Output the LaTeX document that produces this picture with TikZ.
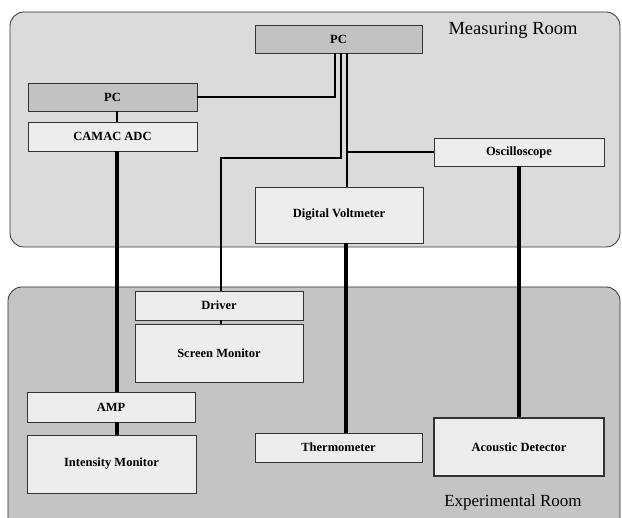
\documentclass[tikz,border=0pt]{standalone}
\usepackage{fontspec}
\setmainfont{Liberation Serif}
\begin{document}
\begin{tikzpicture}[x=1pt,y=-1pt,
  room/.style={draw=black!80, line width=0.8pt, rounded corners=14pt},
  unit/.style={draw=black!80, line width=0.7pt, fill=boxlight, inner sep=0pt,
    font=\fontsize{12.5}{14}\selectfont\bfseries},
  darkunit/.style={unit, fill=boxdark},
  thinlink/.style={line width=1.3pt},
  thicklink/.style={line width=3.6pt}]
\definecolor{measfill}{gray}{0.86}
\definecolor{expfill}{gray}{0.77}
\definecolor{boxdark}{gray}{0.76}
\definecolor{boxlight}{gray}{0.93}
\clip (0,0) rectangle (622,518);
\useasboundingbox (0,0) rectangle (622,518);
\fill[white] (0,0) rectangle (622,518);

% the two rooms
\draw[room, fill=measfill] (10,12) rectangle (620,247);
\draw[room, fill=expfill] (8,287) rectangle (620,540);
\node (measlabel) at (513,30) {\fontsize{18.5}{20}\selectfont Measuring Room};
\node (explabel) at (513,502) {\fontsize{17}{19}\selectfont Experimental Room};

% units in the measuring room
\node[darkunit, minimum width=167pt, minimum height=28pt] (pcT) at (338.5,39) {PC};
\node[darkunit, minimum width=169pt, minimum height=28pt] (pcL) at (112.5,97) {PC};
\node[unit, minimum width=169pt, minimum height=29pt] (adc) at (112.5,136.5) {CAMAC ADC};
\node[unit, minimum width=168pt, minimum height=56pt] (dvm) at (339,215) {Digital Voltmeter};
\node[unit, minimum width=170pt, minimum height=28pt] (osc) at (519,152) {Oscilloscope};

% units in the experimental room
\node[unit, minimum width=168pt, minimum height=29pt] (drv) at (219,305.5) {Driver};
\node[unit, minimum width=168pt, minimum height=58pt] (scr) at (219,353) {Screen Monitor};
\node[unit, minimum width=168pt, minimum height=30pt] (amp) at (111,407) {AMP};
\node[unit, minimum width=169pt, minimum height=58pt] (imon) at (111.5,464) {Intensity Monitor};
\node[unit, minimum width=167pt, minimum height=29pt] (thermo) at (338.5,447.5) {Thermometer};
\node[unit, line width=1.6pt, minimum width=170pt, minimum height=58pt] (acou) at (519,447) {Acoustic Detector};

% control bus from the main PC
\coordinate (bend) at (341,158);
\draw[thinlink] (pcL.east) -| ([xshift=-3.5pt]pcT.south);
\draw[thinlink] ([xshift=2.5pt]pcT.south) -- (bend) -| ([xshift=2pt]drv.north);
\draw[thinlink] ([xshift=8.5pt]pcT.south) -- ([xshift=8.5pt]pcT.south |- dvm.north) coordinate (dvtop);
\draw[thinlink] (osc.west) -- (osc.west -| dvtop);
\draw[thinlink] ([xshift=4.5pt]pcL.south) -- ([xshift=4.5pt]adc.north);
\draw[thinlink] ([xshift=2pt]drv.south) -- ([xshift=2pt]scr.north);

% signal cables
\draw[thicklink] ([xshift=4.5pt]adc.south) -- ([xshift=6pt]amp.north);
\draw[thicklink] ([xshift=6pt]amp.south) -- ([xshift=5.5pt]imon.north);
\draw[thicklink] ([xshift=7pt]dvm.south) -- ([xshift=7.5pt]thermo.north);
\draw[thicklink] (osc.south) -- (acou.north);
\end{tikzpicture}
\end{document}
